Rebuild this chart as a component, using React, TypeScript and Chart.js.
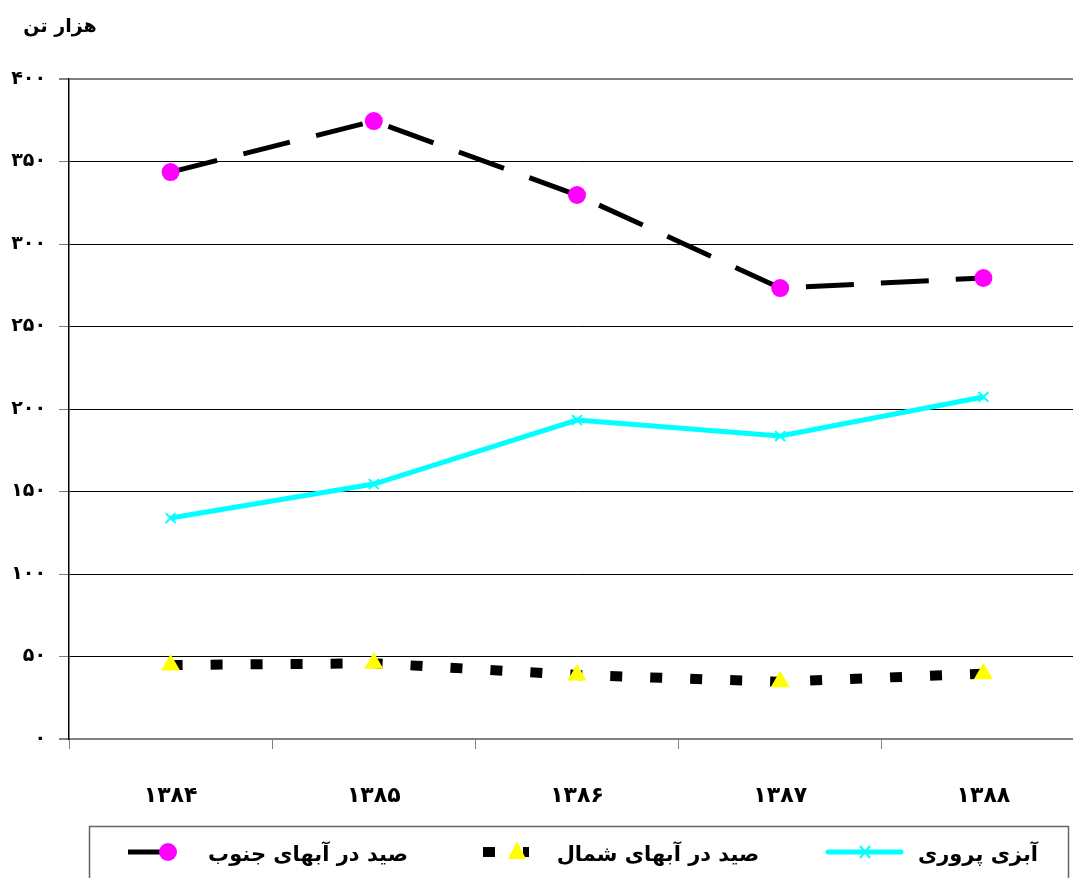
import React, { useEffect, useRef } from 'react';
import { Chart, registerables } from 'chart.js';

Chart.register(...registerables);

const categories = ['۱۳۸۴', '۱۳۸۵', '۱۳۸۶', '۱۳۸۷', '۱۳۸۸'];
const southCatch = [343.6, 374.5, 329.7, 273.3, 279.4];
const northCatch = [44.8, 45.9, 38.8, 34.7, 39.6];
const aquaculture = [133.9, 154.5, 193.3, 183.6, 207.3];
const yTickLabels = ['۰', '۵۰', '۱۰۰', '۱۵۰', '۲۰۰', '۲۵۰', '۳۰۰', '۳۵۰', '۴۰۰'];
const seriesNames = ['صید در آبهای جنوب', 'صید در آبهای شمال', 'آبزی پروری'];
const unitLabel = 'هزار تن';

const FONT = "'DejaVu Sans', sans-serif";

const overlayPlugin = {
  id: 'overlay',
  afterDraw(chart: any) {
    const ctx = chart.ctx as CanvasRenderingContext2D;
    ctx.save();
    // unit title
    ctx.fillStyle = '#000';
    ctx.font = `bold 19px ${FONT}`;
    ctx.textAlign = 'center';
    ctx.textBaseline = 'middle';
    ctx.fillText(unitLabel, 60, 27);

    // legend box
    ctx.strokeStyle = '#666';
    ctx.lineWidth = 1.5;
    ctx.strokeRect(89.5, 826.5, 979, 70);

    const ly = 852;
    // south
    ctx.strokeStyle = '#000';
    ctx.lineWidth = 5;
    ctx.setLineDash([]);
    ctx.beginPath();
    ctx.moveTo(128, ly);
    ctx.lineTo(166, ly);
    ctx.stroke();
    ctx.fillStyle = '#FF00FF';
    ctx.beginPath();
    ctx.arc(168, ly, 9, 0, Math.PI * 2);
    ctx.fill();

    // north
    ctx.strokeStyle = '#000';
    ctx.lineWidth = 10;
    ctx.setLineDash([12, 28]);
    ctx.beginPath();
    ctx.moveTo(483, ly);
    ctx.lineTo(529, ly);
    ctx.stroke();
    ctx.setLineDash([]);
    ctx.fillStyle = '#FFFF00';
    ctx.beginPath();
    ctx.moveTo(517, ly - 11);
    ctx.lineTo(526, ly + 7);
    ctx.lineTo(508, ly + 7);
    ctx.closePath();
    ctx.fill();

    // aquaculture
    ctx.strokeStyle = '#00FFFF';
    ctx.lineWidth = 5;
    ctx.lineCap = 'round';
    ctx.beginPath();
    ctx.moveTo(828, ly);
    ctx.lineTo(901, ly);
    ctx.stroke();
    ctx.lineCap = 'butt';
    ctx.lineWidth = 2;
    ctx.beginPath();
    ctx.moveTo(860, ly - 6);
    ctx.lineTo(870, ly + 6);
    ctx.moveTo(870, ly - 6);
    ctx.lineTo(860, ly + 6);
    ctx.stroke();

    ctx.fillStyle = '#000';
    ctx.font = `bold 21px ${FONT}`;
    ctx.textAlign = 'center';
    ctx.textBaseline = 'middle';
    ctx.fillText(seriesNames[0], 308, 856);
    ctx.fillText(seriesNames[1], 658, 856);
    ctx.fillText(seriesNames[2], 978, 856);
    ctx.restore();
  },
};

export default function App() {
  const ref = useRef<HTMLCanvasElement | null>(null);

  useEffect(() => {
    document.body.style.overflow = 'hidden';
    const canvas = ref.current;
    if (!canvas) return;
    const chart = new Chart(canvas, {
      type: 'line',
      data: {
        labels: categories,
        datasets: [
          {
            label: seriesNames[0],
            data: southCatch,
            borderColor: '#000',
            borderWidth: 5,
            borderDash: [48, 27],
            pointStyle: 'circle',
            pointRadius: 9,
            pointBackgroundColor: '#FF00FF',
            pointBorderColor: '#FF00FF',
            pointBorderWidth: 0,
            tension: 0,
          },
          {
            label: seriesNames[1],
            data: northCatch,
            borderColor: '#000',
            borderWidth: 10,
            borderDash: [12, 28],
            pointStyle: 'triangle',
            pointRadius: 11,
            pointBackgroundColor: '#FFFF00',
            pointBorderColor: '#FFFF00',
            pointBorderWidth: 0,
            tension: 0,
          },
          {
            label: seriesNames[2],
            data: aquaculture,
            borderColor: '#00FFFF',
            borderWidth: 5,
            pointStyle: 'crossRot',
            pointRadius: 7,
            pointBackgroundColor: '#00FFFF',
            pointBorderColor: '#00FFFF',
            pointBorderWidth: 2,
            tension: 0,
          },
        ],
      },
      options: {
        responsive: false,
        animation: false,
        devicePixelRatio: 1,
        layout: { padding: { top: 79, right: 15, left: 0, bottom: 0 } },
        plugins: {
          legend: { display: false },
          tooltip: { enabled: false },
          title: { display: false },
        },
        scales: {
          x: {
            type: 'category',
            offset: true,
            afterFit(scale: any) {
              scale.height = 139;
            },
            grid: {
              display: true,
              drawOnChartArea: false,
              drawTicks: true,
              tickLength: 10,
              tickColor: '#808080',
              offset: true,
            },
            border: { display: true, color: '#808080', width: 2 },
            ticks: {
              color: '#000',
              padding: 34,
              font: { family: FONT, size: 22, weight: 'bold' },
              maxRotation: 0,
            },
          },
          y: {
            min: 0,
            max: 400,
            afterFit(scale: any) {
              scale.width = 69;
            },
            grid: {
              color: (c: any) => (c.tick && (c.tick.value === 0 || c.tick.value === 400) ? '#808080' : '#000'),
              lineWidth: (c: any) => (c.tick && (c.tick.value === 0 || c.tick.value === 400) ? 2 : 1),
              drawTicks: true,
              tickLength: 10,
              tickColor: '#808080',
            },
            border: { display: true, color: '#000', width: 1.5 },
            ticks: {
              stepSize: 50,
              color: '#000',
              padding: 13,
              font: { family: FONT, size: 19, weight: 'bold' },
              callback: (v: any) => yTickLabels[Math.round(Number(v) / 50)] ?? '',
            },
          },
        },
      },
      plugins: [overlayPlugin],
    });
    return () => chart.destroy();
  }, []);

  return (
    <div style={{ position: 'fixed', left: 0, top: 0, width: 1100, height: 878, background: '#fff' }}>
      <canvas ref={ref} width={1100} height={878} style={{ width: 1100, height: 878, display: 'block' }} />
    </div>
  );
}
